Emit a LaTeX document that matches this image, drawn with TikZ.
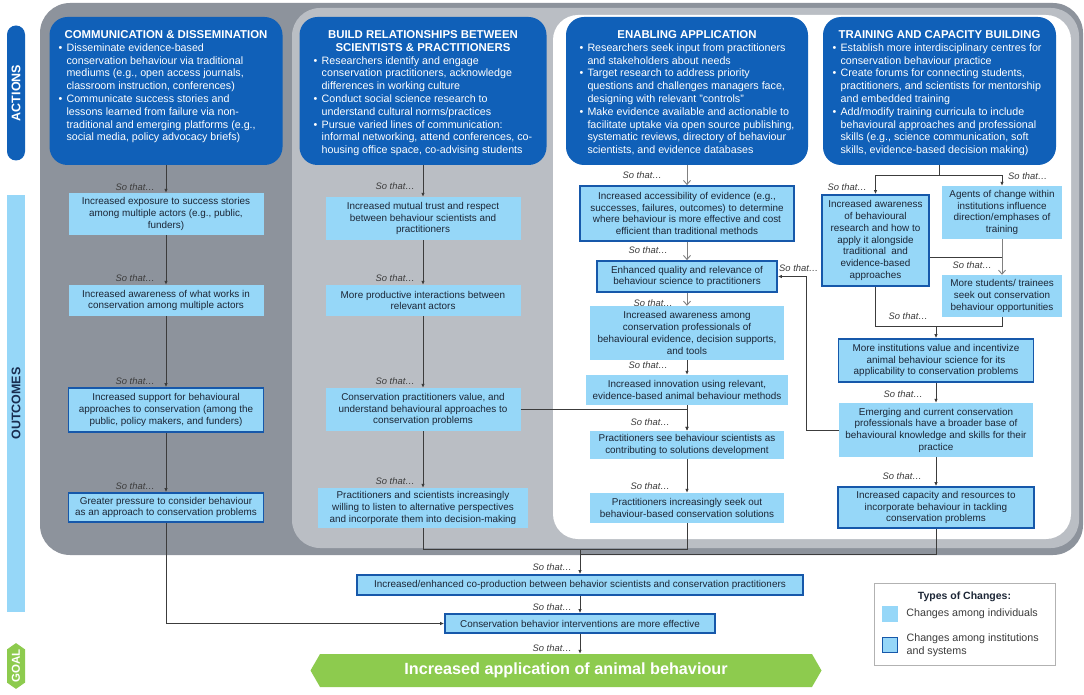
\documentclass[tikz,border=0pt]{standalone}
\usepackage{fontspec}
\setmainfont{Liberation Sans}
\usetikzlibrary{positioning,arrows.meta,shapes.symbols}

\definecolor{actblue}{RGB}{16,96,184}
\definecolor{outblue}{RGB}{150,215,248}
\definecolor{instblue}{RGB}{22,88,170}
\definecolor{darkpanel}{RGB}{141,147,156}
\definecolor{lightpanel}{RGB}{186,190,196}
\definecolor{goalgreen}{RGB}{141,203,78}
\definecolor{boxtext}{RGB}{28,38,54}
\definecolor{linegray}{RGB}{60,60,60}
\definecolor{bartext}{RGB}{25,45,80}

\newcommand{\bul}[1]{\makebox[8pt][l]{\textbullet}\begin{tabular}[t]{@{}l@{}}#1\end{tabular}}
\newcommand{\ttl}[1]{\multicolumn{1}{c}{\bfseries\fontsize{11.4}{12.8}\selectfont #1}}

\tikzset{
  actbox/.style={fill=actblue, rounded corners=18pt, inner sep=0pt},
  acttext/.style={text=white, inner sep=0pt, anchor=north, font=\fontsize{10.7}{12.8}\selectfont},
  indiv/.style={fill=outblue, inner sep=0pt, align=center, text=boxtext, font=\fontsize{9.9}{11.7}\selectfont},
  inst/.style={indiv, draw=instblue, line width=1.8pt},
  sothat/.style={font=\fontsize{9.4}{10}\selectfont\itshape, text=linegray, inner sep=0pt},
  arr/.style={draw=linegray, line width=0.8pt, -{Latex[length=4pt,width=3.5pt]}},
  varr/.style={draw=gray, line width=0.9pt, -{Straight Barb[length=4pt,width=7pt]}},
  link/.style={draw=linegray, line width=0.8pt},
  sidebar/.style={rotate=90, minimum height=18, inner sep=0pt, font=\bfseries\fontsize{12.5}{12.5}\selectfont},
  legtext/.style={text=linegray, inner sep=0pt, align=left, font=\fontsize{10.7}{12.8}\selectfont},
}

\begin{document}
\begin{tikzpicture}[x=1pt,y=-1pt]
\useasboundingbox (0,0) rectangle (1084,695);

% panels behind the columns
\fill[darkpanel, rounded corners=30pt] (40,3) rectangle (1083,555);
\fill[lightpanel, rounded corners=28pt] (292,8) rectangle (1079,548);
\fill[white, rounded corners=25pt] (553,15) rectangle (1071,539);

% side bars
\node[sidebar, fill=actblue, rounded corners=9pt, minimum width=135, text=white] (actbar) at (16,93) {ACTIONS};
\node[sidebar, fill=outblue, minimum width=417, text=bartext] (outbar) at (16,403.5) {OUTCOMES};
\node[sidebar, signal, signal to=east and west, signal pointer angle=110, fill=goalgreen, minimum width=44, text=white, font=\bfseries\fontsize{11.5}{11.5}\selectfont] (goalbar) at (16,666) {GOAL};

% actions
\node[actbox, minimum width=233, minimum height=148] (act1) at (166,91) {};
\node[acttext, below=12.5pt of act1.north] (act1t) {\begin{tabular}{@{}l@{}}
\ttl{COMMUNICATION \& DISSEMINATION}\\
\bul{Disseminate evidence-based\\conservation behaviour via traditional\\mediums (e.g., open access journals,\\classroom instruction, conferences)}\\
\bul{Communicate success stories and\\lessons learned from failure via non-\\traditional and emerging platforms (e.g.,\\social media, policy advocacy briefs)}
\end{tabular}};

\node[actbox, minimum width=247, minimum height=148] (act2) at (423,91) {};
\node[acttext, below=12.5pt of act2.north] (act2t) {\begin{tabular}{@{}l@{}}
\ttl{BUILD RELATIONSHIPS BETWEEN}\\
\ttl{SCIENTISTS \& PRACTITIONERS}\\
\bul{Researchers identify and engage\\conservation practitioners, acknowledge\\differences in working culture}\\
\bul{Conduct social science research to\\understand cultural norms/practices}\\
\bul{Pursue varied lines of communication:\\informal networking, attend conferences, co-\\housing office space, co-advising students}
\end{tabular}};

\node[actbox, minimum width=242, minimum height=148] (act3) at (687,91) {};
\node[acttext, below=12.5pt of act3.north] (act3t) {\begin{tabular}{@{}l@{}}
\ttl{ENABLING APPLICATION}\\
\bul{Researchers seek input from practitioners\\and stakeholders about needs}\\
\bul{Target research to address priority\\questions and challenges managers face,\\designing with relevant "controls"}\\
\bul{Make evidence available and actionable to\\facilitate uptake via open source publishing,\\systematic reviews, directory of behaviour\\scientists, and evidence databases}
\end{tabular}};

\node[actbox, minimum width=233, minimum height=148] (act4) at (939.5,91) {};
\node[acttext, below=12.5pt of act4.north] (act4t) {\begin{tabular}{@{}l@{}}
\ttl{TRAINING AND CAPACITY BUILDING}\\
\bul{Establish more interdisciplinary centres for\\conservation behaviour practice}\\
\bul{Create forums for connecting students,\\practitioners, and scientists for mentorship\\and embedded training}\\
\bul{Add/modify training curricula to include\\behavioural approaches and professional\\skills (e.g., science communication, soft\\skills, evidence-based decision making)}
\end{tabular}};

% column 1
\node[indiv, minimum width=195, minimum height=42] (a1) at (166,214) {Increased exposure to success stories\\among multiple actors (e.g., public,\\funders)};
\node[indiv, minimum width=195, minimum height=31] (a2) at (166,300.5) {Increased awareness of what works in\\conservation among multiple actors};
\node[inst, minimum width=195, minimum height=44] (a3) at (166,410) {Increased support for behavioural\\approaches to conservation (among the\\public, policy makers, and funders)};
\node[inst, minimum width=195, minimum height=29] (a4) at (166,507.5) {Greater pressure to consider behaviour\\as an approach to conservation problems};

% column 2
\node[indiv, minimum width=195, minimum height=43] (b1) at (423,218.5) {Increased mutual trust and respect\\between behaviour scientists and\\practitioners};
\node[indiv, minimum width=195, minimum height=31] (b2) at (423,300.5) {More productive interactions between\\relevant actors};
\node[indiv, minimum width=195, minimum height=43] (b3) at (423,409.5) {Conservation practitioners value, and\\understand behavioural approaches to\\conservation problems};
\node[indiv, minimum width=210, minimum height=40] (b4) at (423,508) {Practitioners and scientists increasingly\\willing to listen to alternative perspectives\\and incorporate them into decision-making};

% column 3
\node[inst, minimum width=214, minimum height=55] (c1) at (687,213.5) {Increased accessibility of evidence (e.g.,\\successes, failures, outcomes) to determine\\where behaviour is more effective and cost\\efficient than traditional methods};
\node[inst, minimum width=180, minimum height=31] (c2) at (687,276.5) {Enhanced quality and relevance of\\behaviour science to practitioners};
\node[indiv, minimum width=194, minimum height=54] (c3) at (687,333) {Increased awareness among\\conservation professionals of\\behavioural evidence, decision supports,\\and tools};
\node[indiv, minimum width=202, minimum height=30] (c4) at (687,390) {Increased innovation using relevant,\\evidence-based animal behaviour methods};
\node[indiv, minimum width=194, minimum height=28] (c5) at (687,445) {Practitioners see behaviour scientists as\\contributing to solutions development};
\node[indiv, minimum width=194, minimum height=30] (c6) at (687,508) {Practitioners increasingly seek out\\behaviour-based conservation solutions};

% column 4
\node[inst, minimum width=107, minimum height=91] (d1) at (875.5,240.5) {Increased awareness\\of behavioural\\research and how to\\apply it alongside\\traditional~~and\\evidence-based\\approaches};
\node[indiv, minimum width=120, minimum height=53] (d2) at (1002,212.5) {Agents of change within\\institutions influence\\direction/emphases of\\training};
\node[indiv, minimum width=120, minimum height=42] (d3) at (1002,296) {More students/ trainees\\seek out conservation\\behaviour opportunities};
\node[inst, minimum width=195, minimum height=43] (d4) at (936,360.5) {More institutions value and incentivize\\animal behaviour science for its\\applicability to conservation problems};
\node[indiv, minimum width=194, minimum height=54] (d5) at (936,430) {Emerging and current conservation\\professionals have a broader base of\\behavioural knowledge and skills for their\\practice};
\node[inst, minimum width=196, minimum height=41] (d6) at (936,507.5) {Increased capacity and resources to\\incorporate behaviour in tackling\\conservation problems};

% shared outcomes and goal
\node[inst, minimum width=446, minimum height=20] (e1) at (580,585) {Increased/enhanced co-production between behavior scientists and conservation practitioners};
\node[inst, minimum width=270, minimum height=19] (e2) at (580,623.5) {Conservation behavior interventions are more effective};
\node[signal, signal to=east and west, signal pointer angle=120, fill=goalgreen, minimum width=511, minimum height=33, inner sep=0pt, text=white, font=\bfseries\fontsize{16.2}{16.2}\selectfont] (goal) at (566,670.5) {Increased application of animal behaviour};

% so that labels
\node[sothat, anchor=east] (s11) at (155,187) {So that…};
\node[sothat, anchor=east] (s12) at (155,278) {So that…};
\node[sothat, anchor=east] (s13) at (155,381) {So that…};
\node[sothat, anchor=east] (s14) at (155,486) {So that…};
\node[sothat, anchor=east] (s21) at (415,186) {So that…};
\node[sothat, anchor=east] (s22) at (415,278) {So that…};
\node[sothat, anchor=east] (s23) at (415,381) {So that…};
\node[sothat, anchor=east] (s24) at (415,481) {So that…};
\node[sothat, anchor=east] (s31) at (662,175) {So that…};
\node[sothat, anchor=east] (s32) at (668,250) {So that…};
\node[sothat, anchor=east] (s33) at (673,303) {So that…};
\node[sothat, anchor=east] (s34) at (668,365) {So that…};
\node[sothat, anchor=east] (s35) at (670,422) {So that…};
\node[sothat, anchor=east] (s36) at (670,486) {So that…};
\node[sothat, anchor=east] (s41) at (867,187) {So that…};
\node[sothat, anchor=west] (s42) at (1008,176) {So that…};
\node[sothat, anchor=east] (s43) at (992,265) {So that…};
\node[sothat, anchor=east] (s44) at (928,316) {So that…};
\node[sothat, anchor=east] (s45) at (923,394) {So that…};
\node[sothat, anchor=east] (s46) at (922,476) {So that…};
\node[sothat, anchor=west] (sfb) at (779,268) {So that…};
\node[sothat, anchor=east] (se1) at (572,567) {So that…};
\node[sothat, anchor=east] (se2) at (572,607) {So that…};
\node[sothat, anchor=east] (se3) at (572,648) {So that…};

% connectors
\draw[arr] (act1) -- (a1);
\draw[arr] (a1) -- (a2);
\draw[arr] (a2) -- (a3);
\draw[arr] (a3) -- (a4);
\draw[arr] (a4.south) |- (e2.west);

\draw[arr] (act2) -- (b1);
\draw[arr] (b1) -- (b2);
\draw[arr] (b2) -- (b3);
\draw[arr] (b3) -- (b4);
\draw[arr] (b3.east) -| (c5.north);

\draw[varr] (act3) -- (c1);
\draw[varr] (c1) -- (c2);
\draw[varr] (c2) -- (c3);
\draw[arr] (c3) -- (c4);
\draw[arr] (c4) -- (c5);
\draw[arr] (c5) -- (c6);

\draw[arr] (act4.south) -- ++(0,10) -| (d1.north);
\draw[arr] (act4.south) -- ++(0,10) -| (d2.north);
\draw[varr] (d2) -- (d3);
\draw[link] ([yshift=-16.5]d1.east) -- ([yshift=-16.5]d1.east -| d3.north);
\draw[arr] (d1.south) |- ([yshift=12]d4.north) -- (d4.north);
\draw[link] (d3.south) |- ([yshift=12]d4.north);
\draw[arr] (d4) -- (d5);
\draw[arr] (d5) -- (d6);
\draw[arr] (d5.west) -- ++(-32,0) |- (c2.east);

\coordinate (jn) at (580,549);
\coordinate (jn2) at (580,554);
\draw[link] (b4.south) |- (jn);
\draw[link] (c6.south) |- (jn);
\draw[link] (d6.south) |- (jn2);
\draw[arr] (jn) -- (e1.north);
\draw[arr] (e1) -- (e2);
\draw[arr] (e2.south) -- (e2.south |- goal.north);

% legend
\node[draw=gray!60, line width=0.8pt, fill=white, minimum width=181, minimum height=82, inner sep=0pt] (legend) at (964.5,624) {};
\node[font=\bfseries\fontsize{10.5}{12}\selectfont, text=boxtext, inner sep=0pt] (legtitle) at (964.5,597) {Types of Changes:};
\node[fill=outblue, minimum size=16, inner sep=0pt] (legind) at (890,614) {};
\node[inst, minimum size=15] (leginst) at (890,645) {};
\node[legtext, right=8pt of legind] (legindt) {Changes among individuals};
\node[legtext, right=8pt of leginst] (leginstt) {Changes among institutions\\and systems};
\end{tikzpicture}
\end{document}
